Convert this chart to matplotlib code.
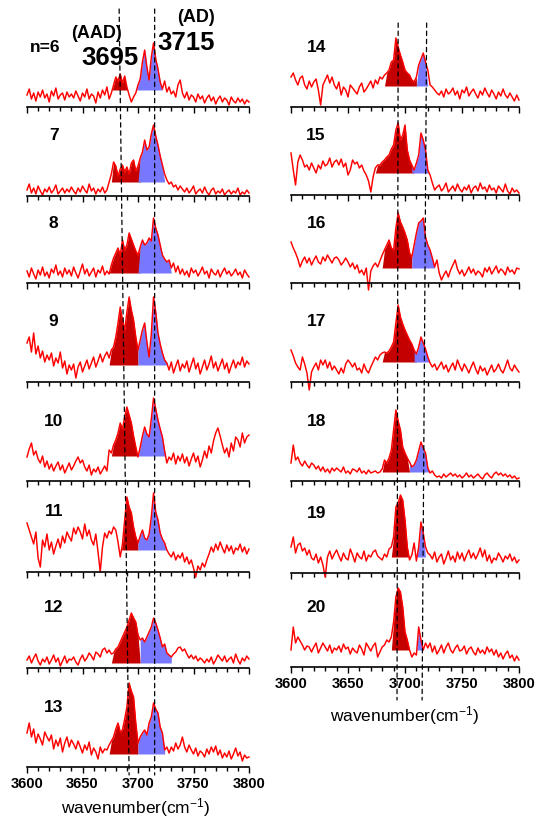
import matplotlib
matplotlib.use('Agg')
import matplotlib.pyplot as plt
from matplotlib.patches import ConnectionPatch
import numpy as np

plt.rcParams['font.family'] = ['Liberation Sans', 'DejaVu Sans']
plt.rcParams['mathtext.default'] = 'regular'

# ── Data ─────────────────────────────────────────────────────────────────────
# IR spectra of cluster size n, 3600-3800 cm-1 in 2 cm-1 steps (signal in arb. units)
wavenumber = np.arange(3600, 3802, 2)

s06 = [12, 18, 8, 14, 6, 15, 10, 17, 9, 13, 5, 16, 11, 19, 8, 12, 14, 7, 15, 10, 13,
       9, 16, 11, 6, 14, 10, 18, 8, 13, 11, 4, 15, 9, 17, 12, 20,
       8, 14, 22, 30, 26, 33, 24, 31, 20,
       12, 5, 10, 14,
       22, 28, 45, 57, 40, 27, 50, 64, 48, 38, 25, 18, 26, 15, 20, 13, 16, 10, 22, 27, 14,
       9, 15, 7, 12, 10, 5, 13, 8, 11, 4, 9, 12, 6, 10, 3, 8, 11, 5, 9, 7, 2, 10, 6, 4, 9, 5, 8, 3, 7, 5]
s07 = [6, 12, 3, 8, 2, 10, 5, 1, 7, 4, 9, 3, 6, 11, 2, 5, 8, 3, 7, 4, 9,
       5, 2, 8, 4, 10, 6, 3, 12, 5, 8, 2, 7, 4, 9, 3, 6,
       14, 22, 34, 30, 20, 27, 31, 24, 29, 22, 33, 36, 25, 30,
       38, 44, 56, 46, 49, 62, 71, 60, 51, 40, 31, 22, 16, 12, 14, 9, 11, 6, 10, 7,
       4, 8, 3, 6, 10, 2, 5, 7, 3, 9, 4, 1, 6, 8, 2, 5, 3, 7, 1, 4, 6, 2, 5, 3, 8, 1, 4, 2, 6, 3]
s08 = [12, 6, 15, 9, 4, 13, 8, 16, 7, 11, 5, 14, 10, 18, 8, 12, 6, 15, 9, 13, 7,
       16, 10, 5, 12, 19, 9, 14, 7, 11, 15, 6, 13, 10, 17, 8, 12,
       9, 18, 25, 30, 35, 28, 43, 33, 38, 50, 44, 38, 32, 28,
       36, 43, 38, 40, 45, 42, 65, 55, 48, 38, 28, 24, 21, 23, 15, 20, 11, 17, 9, 14,
       8, 12, 6, 15, 10, 13, 7, 11, 16, 9, 12, 5, 14, 10, 8, 13, 6, 11, 15, 9, 12, 7, 10, 14, 8, 11, 5, 13, 9, 6]
s09 = [39, 45, 30, 49, 28, 36, 24, 31, 20, 27, 22, 29, 16, 24, 19, 30, 14, 21, 8, 17, 12,
       18, 4, 15, 20, 10, 16, 22, 13, 19, 25, 15, 21, 28, 20, 26, 30,
       24, 32, 35, 45, 59, 75, 62, 52, 70, 85, 72, 62, 45, 32,
       42, 52, 59, 40, 25, 48, 85, 70, 49, 38, 29, 22, 19, 12, 20, 9, 16, 22, 11, 18,
       14, 21, 10, 17, 24, 13, 19, 8, 15, 22, 12, 18, 26, 14, 20, 11, 17, 23, 13, 19, 9, 16, 22, 14, 20, 17, 25, 15, 21, 18]
s10 = [24, 32, 38, 26, 30, 22, 18, 25, 14, 20, 12, 17, 10, 15, 19, 11, 16, 8, 13, 18, 11,
       15, 20, 24, 18, 21, 14, 10, 16, 6, 12, 9, 14, 7, 11, 15, 10,
       31, 28, 36, 41, 48, 58, 52, 64, 74, 66, 58, 45, 34, 24,
       34, 45, 54, 47, 44, 62, 83, 72, 61, 52, 44, 30, 18, 24, 21, 28, 17, 25, 20, 27,
       18, 24, 15, 22, 28, 19, 25, 14, 21, 30, 23, 35, 28, 40, 48, 53, 45, 36, 28, 33, 24, 38, 30, 44, 41, 34, 48, 38, 44, 46]
s11 = [49, 42, 35, 28, 40, 14, 5, 32, 25, 38, 22, 30, 18, 26, 33, 24, 36, 29, 40, 35, 31,
       44, 38, 45, 40, 33, 48, 36, 42, 32, 27, 38, 20, 0, 25, 39, 34,
       41, 38, 45, 42, 30, 15, 28, 52, 75, 65, 59, 45, 35, 29,
       36, 42, 34, 32, 38, 55, 79, 60, 52, 39, 33, 29, 22, 18, 15, 20, 12, 17, 14, 19,
       10, 15, 8, 12, 4, -5, 6, 2, 9, 5, 12, 18, 25, 20, 28, 22, 30, 24, 19, 27, 21, 26, 18, 24, 22, 28, 20, 25, 18, 23]
s12 = [8, 12, 5, 10, 14, 7, 3, 9, 6, 11, 4, 8, 13, 6, 10, 2, 7, 12, 5, 9, 8,
       11, 6, 3, 9, 13, 7, 10, 15, 12, 8, 16, 14, 11, 18, 20, 15,
       18, 14, 15, 19, 21, 26, 31, 36, 41, 48, 55, 50, 46, 33,
       28, 30, 26, 31, 36, 41, 50, 45, 38, 30, 21, 24, 15, 13, 11, 14, 16, 20, 21, 17,
       19, 14, 10, 13, 9, 12, 7, 10, 8, 5, 9, 6, 11, 4, 8, 13, 10, 7, 12, 6, 9, 11, 5, 14, 8, 4, 10, 7, 12, 9]
s13 = [34, 44, 30, 38, 24, 33, 28, 22, 35, 30, 26, 32, 18, 27, 21, 29, 15, 24, 30, 20, 27,
       23, 18, 26, 20, 14, 22, 17, 25, 12, 19, 15, 8, 20, 14, 18, 17,
       22, 26, 30, 38, 44, 35, 37, 48, 60, 84, 76, 70, 44, 24,
       30, 34, 37, 32, 44, 50, 64, 58, 54, 40, 34, 17, 20, 14, 20, 16, 24, 18, 22, 30,
       20, 15, 22, 17, 13, 19, 11, 16, 14, 10, 18, 13, 20, 15, 21, 12, 17, 9, 14, 10, 16, 8, 13, 19, 11, 15, 6, 12, 9, 10]
s14 = [30, 34, 27, 22, 29, 31, 22, 18, 26, 20, 25, 28, 17, 2, 22, 27, 32, 24, 30, 22, 18,
       25, 12, 20, 17, 10, 22, 19, 16, 13, 20, 24, 15, 18, 22, 26, 19,
       27, 23, 30, 28, 32, 34, 37, 45, 47, 69, 60, 52, 45, 37,
       34, 32, 27, 25, 30, 42, 48, 54, 45, 37, 22, 20, 17, 14, 12, 16, 10, 18, 13, 15,
       19, 12, 16, 8, 17, 14, 20, 11, 15, 18, 13, 9, 16, 12, 19, 14, 10, 17, 13, 8, 15, 11, 18, 12, 9, 14, 10, 6, 12, 7]
s15 = [42, 25, 10, 33, 40, 35, 28, 30, 25, 32, 27, 22, 30, 26, 34, 29, 31, 37, 28, 33, 35,
       30, 36, 28, 32, 20, 25, 35, 31, 33, 27, 30, 24, 20, 14, 3, 18,
       27, 30, 30, 33, 35, 38, 40, 46, 50, 65, 72, 55, 60, 70,
       45, 35, 30, 25, 32, 40, 62, 55, 45, 25, 20, 12, 5, 8, 10, 4, 7, 12, 3, 6,
       9, 4, 11, 6, 3, 8, 5, 10, 2, 7, 9, 4, 12, 6, 8, 3, 10, 5, 7, 2, 9, 6, 3, 11, 4, 1, 7, 3, 5, 2]
s16 = [41, 35, 30, 24, 16, 22, 26, 20, 25, 18, 23, 27, 21, 19, 26, 22, 28, 24, 20, 25, 26,
       23, 18, 21, 25, 21, 16, 20, 14, 18, 10, 13, 8, 15, -7, 12, 17,
       20, 16, 22, 28, 33, 38, 43, 35, 33, 55, 70, 61, 56, 50,
       43, 30, 26, 38, 50, 60, 62, 65, 46, 38, 33, 25, 16, 23, 10, 3, 8, 12, 6, 13,
       18, 23, 14, 9, 13, 7, 11, 16, 10, 14, 8, 12, 10, 6, 15, 11, 16, 9, 13, 17, 10, 14, 12, 8, 16, 11, 13, 9, 15, 14]
s17 = [32, 26, 19, 15, 12, 25, 18, 9, -8, 10, 15, 19, 12, 22, 17, 22, 14, 20, 12, 16, 12,
       8, 14, 9, 18, 22, 19, 15, 19, 12, 14, 9, 18, 12, 9, 15, 20,
       25, 22, 27, 29, 30, 29, 31, 35, 40, 59, 77, 65, 58, 52,
       47, 42, 38, 32, 28, 35, 45, 39, 33, 25, 19, 15, 18, 12, 16, 20, 13, 17, 10, 15,
       19, 12, 22, 16, 11, 18, 14, 9, 15, 20, 13, 8, 16, 11, 14, 7, 12, 17, 10, 13, 18, 12, 9, 15, 22, 14, 11, 17, 13, 10]
s18 = [18, 36, 21, 24, 18, 15, 20, 16, 13, 18, 16, 12, 15, 10, 14, 9, 12, 8, 13, 10, 13,
       11, 9, 14, 8, 10, 7, 12, 11, 9, 13, 8, 10, 7, 11, 8, 9,
       10, 8, 9, 12, 21, 18, 23, 31, 51, 71, 60, 51, 34, 28,
       23, 19, 14, 16, 21, 30, 39, 33, 28, 13, 8, 10, 6, 4, 5, 3, 7, 4, 6, 8,
       5, 7, 4, 6, 3, 5, 8, 4, 6, 3, 5, 7, 4, 2, 6, 8, 5, 3, 7, 9, 6, 8, 5, 7, 4, 6, 3, 5, 2, 3]
s19 = [26, 36, 20, 28, 30, 22, 25, 18, 23, 15, 13, 19, 10, 16, 8, -4, 16, 22, 14, 19, 23,
       17, 12, 20, 15, 13, 24, 18, 11, 20, 16, 14, 22, 12, 18, 16, 21,
       23, 17, 15, 13, 19, 16, 24, 26, 36, 66, 70, 78, 73, 53,
       26, 13, 18, 30, 12, 26, 51, 40, 26, 20, 18, 14, 21, 11, 16, 19, 9, 15, 22, 13,
       17, 11, 21, 14, 20, 12, 18, 23, 15, 20, 14, 19, 25, 16, 23, 12, 18, 10, 15, 13, 20, 16, 11, 17, 14, 19, 12, 16, 10, 13]
s20 = [17, 40, 24, 30, 26, 22, 17, 21, 20, 15, 20, 24, 14, 19, 24, 20, 16, 22, 14, 19, 17,
       21, 15, 23, 18, 20, 13, 19, 16, 14, 22, 18, 12, 24, 20, 16, 21,
       24, 10, 15, 20, 22, 27, 25, 30, 45, 70, 79, 75, 60, 35,
       27, 17, 10, 14, 12, 40, 27, 17, 24, 19, 24, 15, 21, 13, 17, 22, 14, 20, 24, 17,
       14, 19, 22, 16, 17, 21, 13, 18, 20, 15, 12, 19, 14, 17, 13, 20, 15, 18, 12, 17, 10, 14, 8, 13, 16, 9, 12, 6, 11, 7]

sizes_left  = [6, 7, 8, 9, 10, 11, 12, 13]
sizes_right = [14, 15, 16, 17, 18, 19, 20]
spectra_left  = [s06, s07, s08, s09, s10, s11, s12, s13]
spectra_right = [s14, s15, s16, s17, s18, s19, s20]

# band integration windows (cm-1) and fill base level, n = 6..20
aad_lo = [3677, 3677, 3676, 3676, 3678, 3686, 3677, 3676, 3684, 3675, 3682, 3682, 3681, 3689, 3689]
aad_hi = [3688, 3702, 3702, 3700, 3700, 3700, 3701, 3700, 3711, 3706, 3706, 3708, 3703, 3702, 3702]
ad_lo  = [3699, 3702, 3702, 3700, 3700, 3700, 3701, 3700, 3711, 3706, 3706, 3708, 3703, 3712, 3712]
ad_hi  = [3721, 3723, 3729, 3726, 3727, 3724, 3731, 3724, 3719, 3720, 3725, 3720, 3720, 3717, 3715]
base   = [17, 14, 10, 17, 25, 22, 5, 13, 21, 22, 15, 20, 9, 16, 17]

# ── Layout (pixels) ──────────────────────────────────────────────────────────
W, H = 536, 823
col_x  = [27, 291]
col_w  = [222, 228]
bot_left  = [107, 196, 283, 382, 481, 572, 668, 767]
hgt_left  = [90, 89, 87, 99, 99, 91, 96, 99]
bot_right = [107, 195, 283, 382, 481, 573, 667]
hgt_right = [90, 88, 88, 99, 99, 92, 94]

RED, DARK, BLUE = '#FF0000', '#C40000', '#7878FF'

fig = plt.figure(figsize=(W / 100, H / 100), dpi=100)


def make_panel(cx, cw, bot, hgt, y, n, k, label_x, last):
    ax = fig.add_axes([cx / W, 1 - bot / H, cw / W, hgt / H])
    y = np.asarray(y, dtype=float)
    assert len(y) == len(wavenumber)
    m1 = (wavenumber >= aad_lo[k]) & (wavenumber <= aad_hi[k])
    m2 = (wavenumber >= ad_lo[k]) & (wavenumber <= ad_hi[k])
    ax.fill_between(wavenumber, base[k], y, where=m1 & (y > base[k]),
                    interpolate=True, color=DARK, lw=0, zorder=1)
    ax.fill_between(wavenumber, base[k], y, where=m2 & (y > base[k]),
                    interpolate=True, color=BLUE, lw=0, zorder=1)
    ax.plot(wavenumber, y, color=RED, lw=1.05, zorder=2, clip_on=False)
    ax.set_xlim(3600, 3800)
    ax.set_ylim(0, hgt)
    for s in ['left', 'right', 'top']:
        ax.spines[s].set_visible(False)
    ax.spines['bottom'].set_linewidth(1.2)
    ax.set_yticks([])
    ax.set_xticks(np.arange(3600, 3801, 50))
    ax.set_xticks(np.arange(3600, 3801, 10), minor=True)
    ax.tick_params(axis='x', which='major', length=4, width=1, direction='out', pad=3)
    ax.tick_params(axis='x', which='minor', length=3, width=1, direction='out')
    if last:
        ax.set_xticklabels([str(v) for v in range(3600, 3801, 50)],
                           fontsize=10.5, fontweight='bold')
    else:
        ax.set_xticklabels([])
    txt = 'n=6' if n == 6 else str(n)
    ax.text(label_x if n != 6 else 3616, 60, txt, ha='center', va='center',
            fontsize=12.5, fontweight='bold')
    ax.patch.set_alpha(0)
    return ax


axes_left = []
for i, (n, y) in enumerate(zip(sizes_left, spectra_left)):
    axes_left.append(make_panel(col_x[0], col_w[0], bot_left[i], hgt_left[i], y, n, i,
                                3624, i == len(sizes_left) - 1))
axes_right = []
for i, (n, y) in enumerate(zip(sizes_right, spectra_right)):
    axes_right.append(make_panel(col_x[1], col_w[1], bot_right[i], hgt_right[i], y, n,
                                 i + len(sizes_left), 3622, i == len(sizes_right) - 1))

# dashed guide lines across the stacks
guides = [
    (axes_left[0], axes_left[-1], 3683, 3692, 98, -8),
    (axes_left[0], axes_left[-1], 3715, 3715, 98, -8),
    (axes_right[0], axes_right[-1], 3694, 3693, 84, -33),
    (axes_right[0], axes_right[-1], 3719, 3715, 84, -33),
]
for a_top, a_bot, xa, xb, ya, yb in guides:
    cp = ConnectionPatch(xyA=(xa, ya), coordsA=a_top.transData,
                         xyB=(xb, yb), coordsB=a_bot.transData,
                         color='black', lw=0.9, linestyle=(0, (3.5, 3)), zorder=5)
    fig.add_artist(cp)

# band labels
fig.text(97 / W, 1 - 34 / H, '(AAD)', ha='center', va='center', fontsize=13, fontweight='bold')
fig.text(110 / W, 1 - 58 / H, '3695', ha='center', va='center', fontsize=18.5, fontweight='bold')
fig.text(196 / W, 1 - 18 / H, '(AD)', ha='center', va='center', fontsize=13, fontweight='bold')
fig.text(186 / W, 1 - 43 / H, '3715', ha='center', va='center', fontsize=18.5, fontweight='bold')

fig.text(136 / W, 1 - 808 / H, 'wavenumber(cm$^{-1}$)', ha='center', va='center', fontsize=12.5)
fig.text(405 / W, 1 - 716 / H, 'wavenumber(cm$^{-1}$)', ha='center', va='center', fontsize=12.5)

fig.savefig('out.png', dpi=100)
